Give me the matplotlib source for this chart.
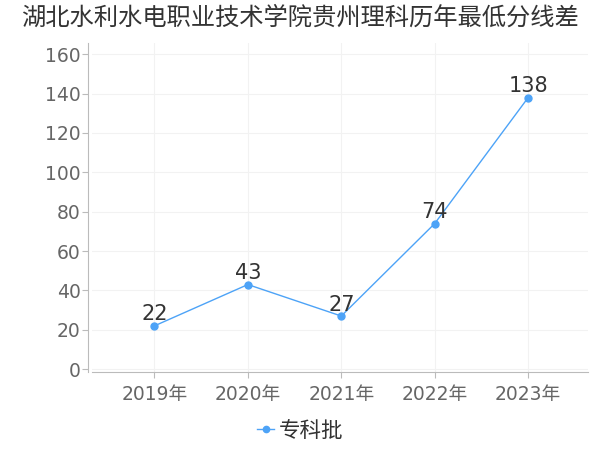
import matplotlib
matplotlib.use('Agg')
import matplotlib.pyplot as plt

plt.rcParams['font.family'] = ['DejaVu Sans', 'Noto Sans CJK SC']

# --- Data ---
years = ['2019年', '2020年', '2021年', '2022年', '2023年']
values = [22, 43, 27, 74, 138]
series_name = '专科批'
title = '湖北水利水电职业技术学院贵州理科历年最低分线差'
yticks = [0, 20, 40, 60, 80, 100, 120, 140, 160]

line_color = '#4da3f7'
spine_color = '#bbbbbb'
grid_color = '#f2f2f2'
cjk = ['Noto Sans CJK SC', 'DejaVu Sans']

fig = plt.figure(figsize=(6, 4.5), dpi=100)
ax = fig.add_axes([0.153, 0.173, 0.827, 0.731])

x = list(range(len(years)))
ax.plot(x, values, color=line_color, linewidth=1, marker='o', markersize=5,
        label=series_name, zorder=3)
for xi, v in zip(x, values):
    ax.annotate(str(v), (xi, v), xytext=(0, 1), textcoords='offset points',
                ha='center', va='bottom', fontsize=15, color='#333333')

ax.set_xlim(-0.67, 4.64)
ax.set_ylim(-1.5, 165.6)
ax.set_xticks(x)
ax.set_xticklabels(years)
ax.set_yticks(yticks)

ax.grid(True, color=grid_color, linewidth=0.8)
ax.set_axisbelow(True)

for side in ['top', 'right']:
    ax.spines[side].set_visible(False)
ax.spines['left'].set_position(('outward', 3))
ax.spines['left'].set_color(spine_color)
ax.spines['bottom'].set_color(spine_color)

ax.tick_params(axis='both', colors=spine_color, labelcolor='#666666',
               labelsize=13.5, length=4, width=0.8)
ax.tick_params(axis='y', pad=1)
ax.tick_params(axis='x', pad=5)

fig.suptitle(title, x=0.5, y=0.99, fontsize=17.5, color='#333333', family=cjk)

fig.legend(loc='lower center', bbox_to_anchor=(0.5, -0.025), frameon=False,
           prop={'family': cjk, 'size': 15.5}, handlelength=0.8,
           handletextpad=0.2, markerscale=0.9, labelcolor='#333333')

fig.savefig('out.png', dpi=100)
